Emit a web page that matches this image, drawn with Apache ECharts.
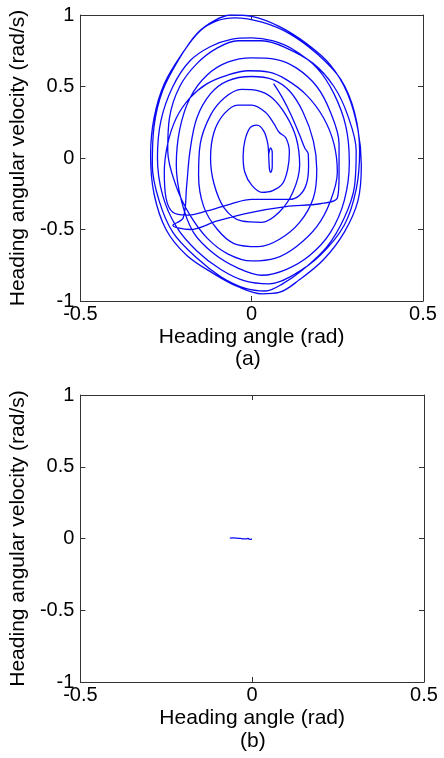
<!DOCTYPE html>
<html>
<head>
<meta charset="utf-8">
<script src="https://cdn.jsdelivr.net/npm/echarts@6/dist/echarts.min.js"></script>
<style>
html,body{margin:0;padding:0;background:#fff;}
#chart{width:444px;height:758px;}
</style>
</head>
<body>
<div id="chart"></div>
<script>
// Tick values
const xTicks = [-0.5, 0, 0.5];
const yTicks = [-1, -0.5, 0, 0.5, 1];

// Panel (a): heading angle (rad) and heading angular velocity (rad/s) in order
const angleA = [
0.064,0.09,0.115,0.14,0.155,0.165,0.166,0.16,0.14,0.11,0.05,0.0,-0.06,-0.13,-0.19,-0.23,-0.25,-0.255,-0.245,-0.22,-0.18,-0.13,-0.07,-0.01,0.05,
0.1,0.16,0.21,0.24,0.25,0.23,0.19,0.13,0.07,0.0,-0.07,-0.13,-0.18,-0.22,-0.245,-0.24,-0.21,-0.16,-0.1,-0.04,0.03,
0.1,0.18,0.24,0.28,0.305,0.3,0.27,0.22,0.15,0.09,0.04,-0.02,-0.09,-0.16,-0.23,-0.27,-0.29,-0.285,-0.26,-0.21,-0.16,-0.11,-0.06,0.0,
0.08,0.16,0.23,0.28,0.31,0.32,0.31,0.27,0.21,0.14,0.08,0.03,-0.04,-0.11,-0.19,-0.25,-0.285,-0.295,-0.285,-0.255,-0.2,-0.15,-0.1,-0.05,
0.03,0.11,0.19,0.26,0.3,0.315,0.305,0.27,0.2,0.12,0.05,-0.02,-0.09,-0.16,-0.22,-0.26,-0.275,-0.265,-0.23,-0.18,-0.12,-0.06,0.0,0.06,
0.12,0.19,0.24,0.275,0.285,0.27,0.23,0.17,0.1,0.03,-0.04,-0.11,-0.17,-0.205,-0.22,-0.21,-0.18,-0.13,-0.07,0.0,0.07,
0.13,0.19,0.23,0.255,0.255,0.25,0.2,0.1,0.0,-0.1,-0.18,-0.23,-0.2,-0.19,-0.18,-0.16,-0.12,-0.07,0.0,0.06,
0.11,0.15,0.18,0.19,0.18,0.14,0.08,0.02,-0.05,-0.1,-0.14,-0.155,-0.15,-0.12,-0.08,-0.03,0.02,
0.06,0.1,0.13,0.14,0.12,0.08,0.03,-0.03,-0.08,-0.11,-0.12,-0.11,-0.08,-0.04,0.0,0.04,
0.065,0.08,0.1,0.11,0.105,0.09,0.06,0.03,0.0,-0.02,-0.025,-0.02,-0.005,0.015,0.035,0.047,0.05,0.052,0.056,0.06,0.06,0.055,0.05
];
const rateA = [
0.52,0.42,0.30,0.16,0.07,0.03,-0.06,-0.18,-0.26,-0.29,-0.29,-0.29,-0.32,-0.37,-0.40,-0.38,-0.28,-0.1,0.1,0.28,0.42,0.52,0.58,0.61,0.6,
0.55,0.44,0.28,0.1,-0.1,-0.3,-0.48,-0.62,-0.7,-0.72,-0.67,-0.56,-0.4,-0.2,0.05,0.28,0.5,0.66,0.77,0.82,0.82,
0.77,0.66,0.5,0.3,0.05,-0.2,-0.42,-0.62,-0.78,-0.88,-0.93,-0.91,-0.83,-0.7,-0.52,-0.3,-0.05,0.22,0.47,0.7,0.87,0.96,1.0,0.99,
0.92,0.8,0.65,0.45,0.2,-0.05,-0.3,-0.52,-0.71,-0.85,-0.94,-0.95,-0.9,-0.81,-0.68,-0.5,-0.25,0.02,0.28,0.52,0.74,0.89,0.96,0.98,
0.95,0.87,0.73,0.55,0.32,0.05,-0.22,-0.47,-0.68,-0.82,-0.88,-0.86,-0.78,-0.65,-0.48,-0.26,0.0,0.26,0.5,0.68,0.78,0.83,0.84,0.82,
0.76,0.63,0.45,0.22,-0.03,-0.3,-0.52,-0.68,-0.78,-0.82,-0.77,-0.67,-0.52,-0.3,-0.05,0.2,0.42,0.58,0.67,0.7,0.69,
0.63,0.5,0.32,0.1,-0.12,-0.28,-0.32,-0.34,-0.38,-0.44,-0.5,-0.47,-0.42,-0.2,0.05,0.28,0.45,0.54,0.57,0.55,
0.47,0.32,0.12,-0.08,-0.28,-0.45,-0.57,-0.62,-0.6,-0.5,-0.34,-0.12,0.1,0.3,0.42,0.48,0.47,
0.42,0.3,0.14,-0.05,-0.24,-0.38,-0.45,-0.44,-0.35,-0.18,0.0,0.18,0.31,0.37,0.37,0.32,
0.24,0.18,0.14,0.04,-0.08,-0.18,-0.23,-0.24,-0.19,-0.1,0.01,0.12,0.21,0.23,0.19,0.1,0.0,-0.08,-0.1,-0.06,0.04,0.07,0.03
];

// Panel (b)
const angleB = [-0.065,-0.055,-0.045,-0.035,-0.025,-0.018,-0.012,-0.008,-0.004,-0.001];
const rateB = [0.003,0.004,0.003,0.001,-0.002,-0.003,0.0,-0.004,-0.006,-0.003];

const dataA = angleA.map((x, i) => [x, rateA[i]]);
const dataB = angleB.map((x, i) => [x, rateB[i]]);

const FONT = 'Liberation Sans, Arial, sans-serif';
const axisColor = '#333';

function xAx(grid, pos, labeled) {
  return {
    type: 'value', gridIndex: grid, position: pos, min: -0.5, max: 0.5, interval: 0.5,
    axisLine: { show: true, onZero: false, lineStyle: { color: axisColor, width: 1 } },
    axisTick: { show: true, inside: true, length: 5, lineStyle: { color: axisColor } },
    axisLabel: { show: labeled, color: '#000', fontSize: 20, fontFamily: FONT, margin: 3 },
    splitLine: { show: false },
    name: labeled ? 'Heading angle (rad)' : '',
    nameLocation: 'middle', nameGap: 26,
    nameTextStyle: { color: '#000', fontSize: 21, fontFamily: FONT }
  };
}
function yAx(grid, pos, labeled) {
  return {
    type: 'value', gridIndex: grid, position: pos, min: -1, max: 1, interval: 0.5,
    axisLine: { show: true, onZero: false, lineStyle: { color: axisColor, width: 1 } },
    axisTick: { show: true, inside: true, length: 5, lineStyle: { color: axisColor } },
    axisLabel: { show: labeled, color: '#000', fontSize: 20, fontFamily: FONT, margin: 6 },
    splitLine: { show: false },
    name: labeled ? 'Heading angular velocity (rad/s)' : '',
    nameLocation: 'middle', nameGap: 43,
    nameTextStyle: { color: '#000', fontSize: 21, fontFamily: FONT }
  };
}

const chart = echarts.init(document.getElementById('chart'), null, { renderer: 'canvas' });
chart.setOption({
  animation: false,
  backgroundColor: '#fff',
  grid: [
    { left: 74, top: 15, width: 349, height: 286 },
    { left: 76, top: 395, width: 348, height: 287 }
  ],
  xAxis: [xAx(0, 'bottom', true), xAx(0, 'top', false), xAx(1, 'bottom', true), xAx(1, 'top', false)],
  yAxis: [yAx(0, 'left', true), yAx(0, 'right', false), yAx(1, 'left', true), yAx(1, 'right', false)],
  graphic: [
    { type: 'text', left: 235, top: 349, style: { text: '(a)', fontSize: 21, fontFamily: FONT, fill: '#000' } },
    { type: 'text', left: 240, top: 731, style: { text: '(b)', fontSize: 21, fontFamily: FONT, fill: '#000' } }
  ],
  series: [
    { type: 'line', xAxisIndex: 0, yAxisIndex: 0, data: dataA, showSymbol: false, smooth: 0.35,
      lineStyle: { color: '#0a0af5', width: 1.3 } },
    { type: 'line', xAxisIndex: 2, yAxisIndex: 2, data: dataB, showSymbol: false, smooth: 0.3,
      lineStyle: { color: '#0a0af5', width: 1.3 } }
  ]
});
</script>
</body>
</html>
